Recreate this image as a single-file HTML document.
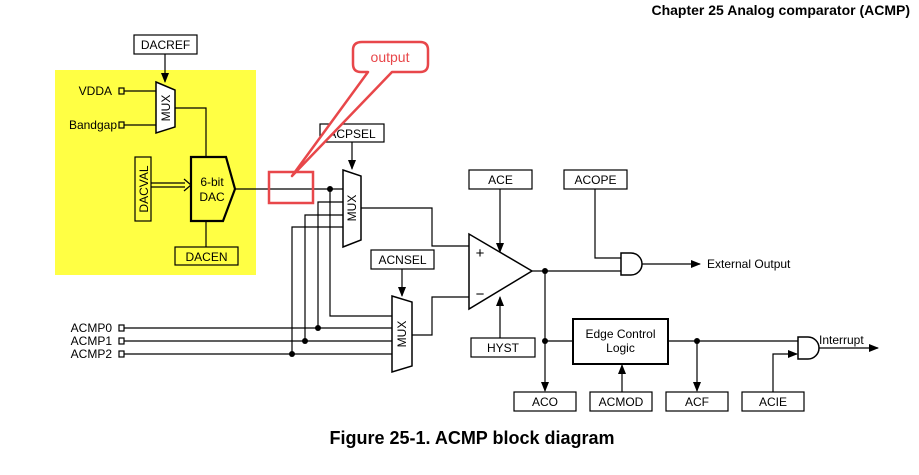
<!DOCTYPE html>
<html><head><style>
html,body{margin:0;padding:0;background:#fff;}
svg{display:block;font-family:"Liberation Sans",Arial,sans-serif;}
</style></head><body>
<svg width="919" height="475" viewBox="0 0 919 475" xmlns="http://www.w3.org/2000/svg">
<defs>
<marker id="a" markerWidth="10" markerHeight="8" refX="9" refY="4" orient="auto" markerUnits="userSpaceOnUse"><path d="M0,0 L10,4 L0,8 z" fill="#000"/></marker>
</defs>
<text x="910" y="15" text-anchor="end" font-size="14" font-weight="bold">Chapter 25 Analog comparator (ACMP)</text>
<rect x="55" y="70" width="201" height="205" fill="#ffff44"/>
<g stroke="#000" stroke-width="1.2" fill="none">
<!-- DACREF -->
<rect x="134" y="35" width="63" height="19" fill="#fff"/>
<line x1="165" y1="54" x2="165" y2="82" marker-end="url(#a)"/>
<polygon points="156,82 175,90 175,127 156,133" fill="#fff" stroke-width="1.5"/>
<rect x="119" y="88" width="5" height="6"/>
<rect x="119" y="122" width="5" height="6"/>
<line x1="124" y1="91" x2="156" y2="91"/>
<line x1="124" y1="125" x2="156" y2="125"/>
<polyline points="175,108 206,108 206,157"/>
<polygon points="191,157 226,157 235,189 223,221 191,221" fill="#ffff44" stroke-width="2.2"/>
<rect x="135" y="157" width="16" height="64"/>
<line x1="151" y1="183" x2="185" y2="183"/>
<line x1="151" y1="187" x2="185" y2="187"/>
<path d="M184,179 L191,185 L184,191" />
<line x1="206" y1="221" x2="206" y2="247"/>
<rect x="175" y="247" width="63" height="18"/>
<line x1="235" y1="189" x2="343" y2="189"/>
<!-- ACPSEL -->
<rect x="320" y="124" width="64" height="18" fill="#fff"/>
<line x1="352" y1="142" x2="352" y2="169" marker-end="url(#a)"/>
<polygon points="343,170 361,176 361,240 343,247" fill="#fff" stroke-width="1.5"/>
<polyline points="343,202 318,202 318,328"/>
<polyline points="343,215 305,215 305,341"/>
<polyline points="343,227 292,227 292,354"/>
<polyline points="330,189 330,316 392,316"/>
<polyline points="361,208 432,208 432,246 469,246"/>
<!-- comparator -->
<polygon points="469,234 469,309 532,271" fill="#fff" stroke-width="1.5"/>
<rect x="469" y="170" width="63" height="19"/>
<line x1="500" y1="189" x2="500" y2="252" marker-end="url(#a)"/>
<rect x="471" y="338" width="64" height="19"/>
<line x1="500" y1="338" x2="500" y2="297" marker-end="url(#a)"/>
<!-- ACNSEL -->
<rect x="371" y="250" width="63" height="19"/>
<line x1="402" y1="269" x2="402" y2="296" marker-end="url(#a)"/>
<polygon points="392,296 412,302 412,366 392,372" fill="#fff" stroke-width="1.5"/>
<polyline points="412,335 432,335 432,297 469,297"/>
<!-- ACMP inputs -->
<rect x="119" y="325" width="5" height="6"/>
<rect x="119" y="338" width="5" height="6"/>
<rect x="119" y="351" width="5" height="6"/>
<line x1="124" y1="328" x2="392" y2="328"/>
<line x1="124" y1="341" x2="392" y2="341"/>
<line x1="124" y1="354" x2="392" y2="354"/>
<!-- outputs -->
<line x1="532" y1="271" x2="621" y2="271"/>
<rect x="564" y="170" width="63" height="19"/>
<polyline points="595,189 595,258 621,258"/>
<path d="M621,253 L631,253 A11,11 0 0 1 631,275 L621,275 Z" fill="#fff" stroke-width="1.5"/>
<line x1="642" y1="264" x2="700" y2="264" marker-end="url(#a)"/>
<line x1="545" y1="271" x2="545" y2="391" marker-end="url(#a)"/>
<line x1="545" y1="341" x2="573" y2="341"/>
<rect x="573" y="319" width="95" height="45" stroke-width="2"/>
<line x1="622" y1="392" x2="622" y2="365" marker-end="url(#a)"/>
<line x1="668" y1="341" x2="798" y2="341"/>
<line x1="697" y1="341" x2="697" y2="391" marker-end="url(#a)"/>
<polyline points="773,392 773,354 797,354" marker-end="url(#a)"/>
<path d="M798,337 L808,337 A11,11 0 0 1 808,359 L798,359 Z" fill="#fff" stroke-width="1.5"/>
<line x1="819" y1="348" x2="878" y2="348" marker-end="url(#a)"/>
<rect x="514" y="392" width="62" height="19"/>
<rect x="590" y="392" width="62" height="19"/>
<rect x="666" y="392" width="62" height="19"/>
<rect x="742" y="392" width="62" height="19"/>
</g>
<g fill="#000">
<circle cx="330" cy="189" r="3"/><circle cx="318" cy="328" r="3"/><circle cx="305" cy="341" r="3"/><circle cx="292" cy="354" r="3"/>
<circle cx="545" cy="271" r="3"/><circle cx="545" cy="341" r="3"/><circle cx="697" cy="341" r="3"/>
</g>
<g font-size="12" fill="#000">
<text x="165.5" y="49" text-anchor="middle">DACREF</text>
<text x="112" y="95" text-anchor="end">VDDA</text>
<text x="117" y="129" text-anchor="end">Bandgap</text>
<text transform="translate(170,108) rotate(-90)" text-anchor="middle">MUX</text>
<text x="212" y="186" text-anchor="middle">6-bit</text>
<text x="212" y="201" text-anchor="middle">DAC</text>
<text transform="translate(148,189) rotate(-90)" text-anchor="middle">DACVAL</text>
<text x="206.5" y="261" text-anchor="middle">DACEN</text>
<text x="352" y="138" text-anchor="middle">ACPSEL</text>
<text transform="translate(356,208) rotate(-90)" text-anchor="middle">MUX</text>
<text x="402.5" y="264" text-anchor="middle">ACNSEL</text>
<text transform="translate(406,334) rotate(-90)" text-anchor="middle">MUX</text>
<text x="500.5" y="184" text-anchor="middle">ACE</text>
<text x="595.5" y="184" text-anchor="middle">ACOPE</text>
<text x="503" y="352" text-anchor="middle">HYST</text>
<text x="480" y="258" text-anchor="middle" font-size="15">+</text>
<text x="480" y="299" text-anchor="middle" font-size="15">−</text>
<text x="707" y="268">External Output</text>
<text x="620.5" y="338" text-anchor="middle">Edge Control</text>
<text x="620.5" y="352" text-anchor="middle">Logic</text>
<text x="819" y="344">Interrupt</text>
<text x="112" y="332" text-anchor="end">ACMP0</text>
<text x="112" y="345" text-anchor="end">ACMP1</text>
<text x="112" y="358" text-anchor="end">ACMP2</text>
<text x="545" y="406" text-anchor="middle">ACO</text>
<text x="621" y="406" text-anchor="middle">ACMOD</text>
<text x="697" y="406" text-anchor="middle">ACF</text>
<text x="773" y="406" text-anchor="middle">ACIE</text>
</g>
<!-- callout -->
<g stroke="#e8474a" stroke-width="2.5" fill="none">
<rect x="269" y="172" width="44" height="31"/>
<path d="M362,42 L420,42 Q428,42 428,50 L428,64 Q428,72 420,72 L392,72 L292,176 L368,72 L361,72 Q353,72 353,64 L353,50 Q353,42 362,42 Z" fill="#fff" stroke-linejoin="round"/>
</g>
<text x="390" y="62" text-anchor="middle" font-size="14" fill="#e8474a">output</text>
<text x="472" y="444" text-anchor="middle" font-size="18" font-weight="bold">Figure 25-1. ACMP block diagram</text>
</svg>
</body></html>
